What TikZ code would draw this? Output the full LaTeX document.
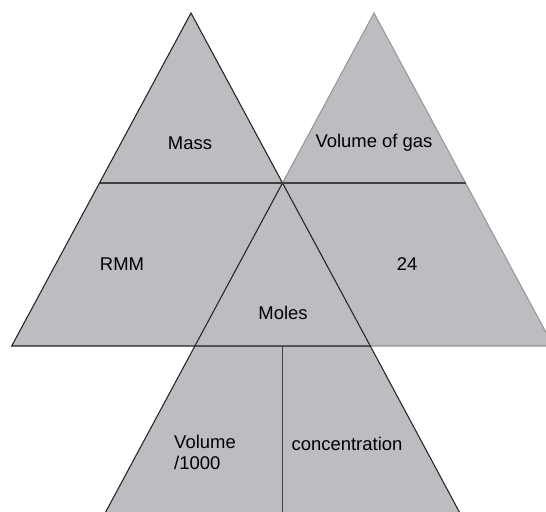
\documentclass[tikz,border=0pt]{standalone}
\usepackage{fontspec}
\setmainfont{Liberation Sans}
\definecolor{trifill}{RGB}{188,189,193}
\definecolor{edgedark}{RGB}{35,35,35}
\definecolor{edgelight}{RGB}{150,150,150}
\definecolor{divline}{RGB}{64,64,64}

\begin{document}
\begin{tikzpicture}[x=0.02cm, y=-0.02cm, font=\fontsize{10.5}{12}\selectfont,
    edge/.style={draw=edgedark, line width=0.6pt},
    divider/.style={draw=divline, line width=0.9pt}]
    \useasboundingbox (0,0) rectangle (546,511);
    \clip (0,0) rectangle (546,511);

    \coordinate (A) at (191,13);
    \coordinate (B) at (374,13);
    \coordinate (X) at (282.5,183);
    \coordinate (L) at (11.7,346);
    \coordinate (M1) at (194.7,346);
    \coordinate (M2) at (370.3,346);
    \coordinate (R) at (553.3,346);
    \coordinate (P) at (103.5,516);
    \coordinate (Q) at (461.5,516);
    \coordinate (H1) at (99.5,183);
    \coordinate (H2) at (465.5,183);
    \coordinate (V1) at (282.5,346);
    \coordinate (V2) at (282.5,516);

    \fill[trifill] (X) -- (P) -- (Q) -- cycle;
    \filldraw[fill=trifill, draw=edgelight, line width=0.6pt] (B) -- (M1) -- (R) -- cycle;
    \filldraw[fill=trifill, edge] (A) -- (L) -- (M2) -- cycle;
    \draw[edge] (X) -- (P);
    \draw[edge] (M2) -- (Q);
    \draw[divider] (H1) -- (H2);
    \draw[divider] (V1) -- (V2);

    \node (mass) at (190,143) {Mass};
    \node (gas) at (374,143) {Volume of gas};
    \node (rmm) at (122,264) {RMM};
    \node (n24) at (407,264) {24};
    \node (moles) at (283,313) {Moles};
    \node (vol) [align=left] at (205,452) {Volume\\/1000};
    \node (conc) at (347,444) {concentration};

\end{tikzpicture}
\end{document}
